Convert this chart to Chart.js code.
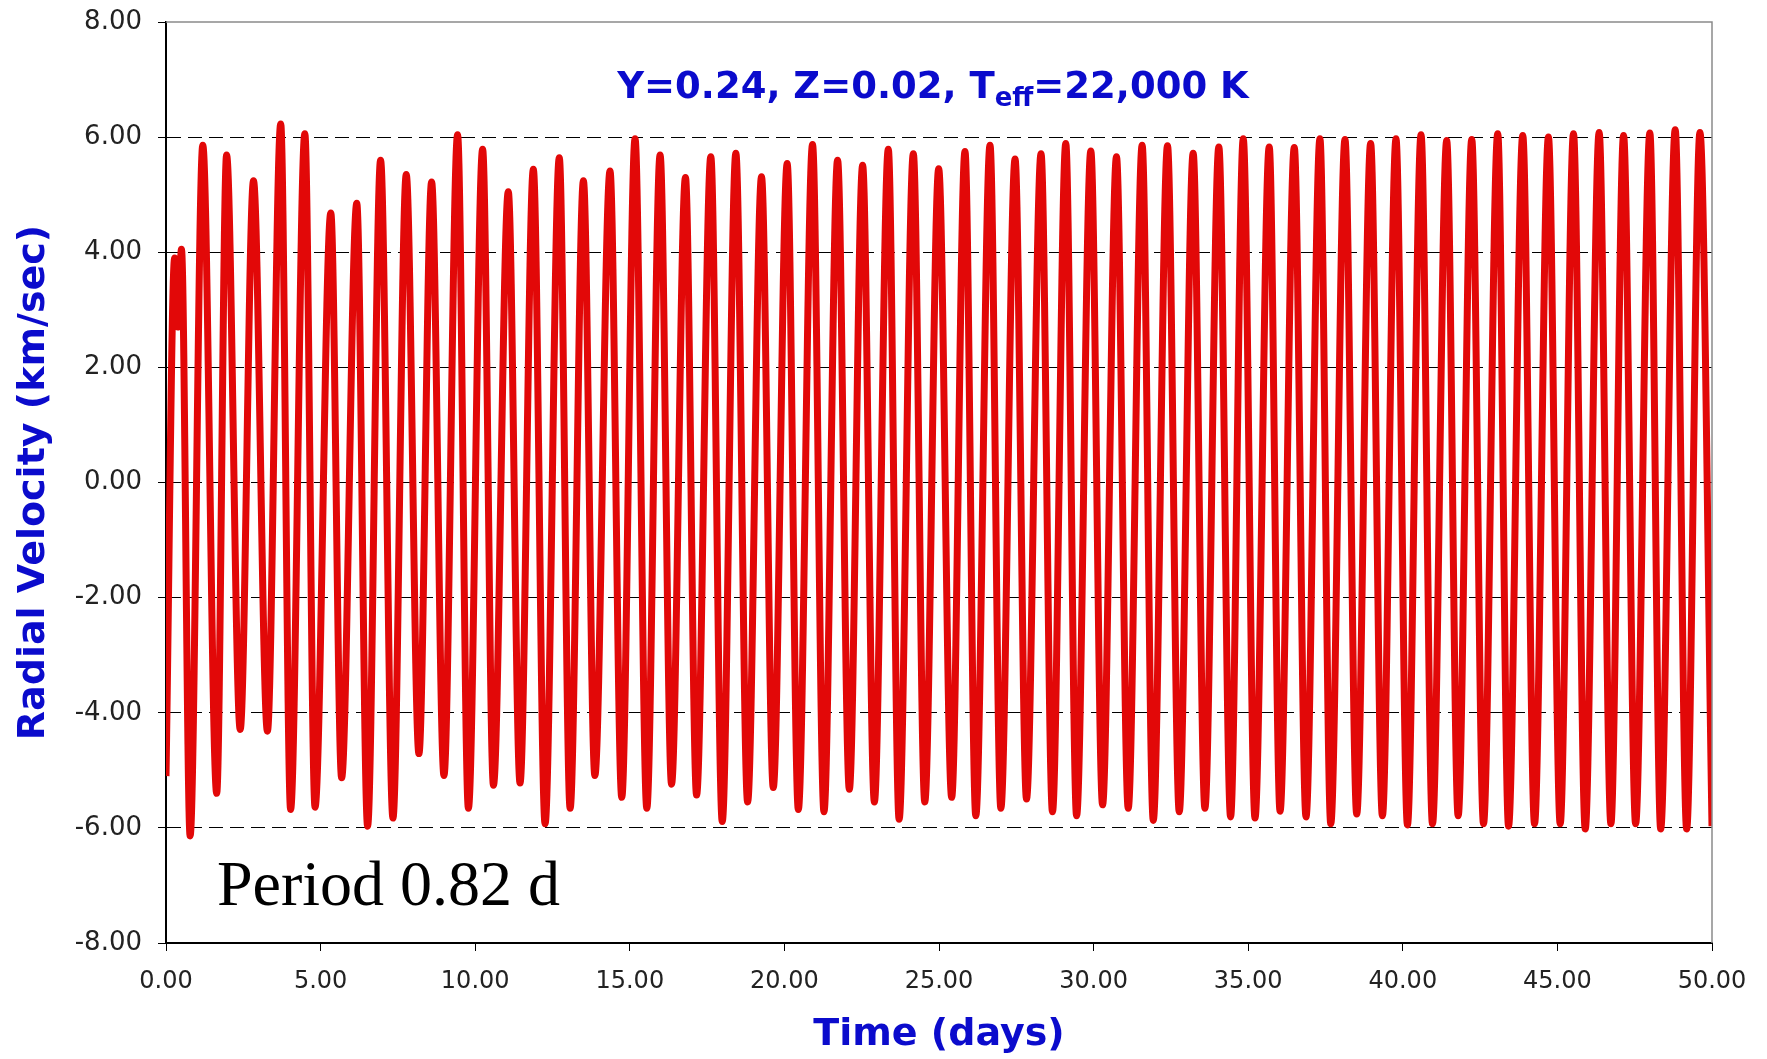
<!DOCTYPE html>
<html>
<head>
<meta charset="utf-8">
<title>Radial velocity</title>
<script src="https://cdn.jsdelivr.net/npm/chart.js@4.4.1/dist/chart.umd.min.js"></script>
<style>
  html, body { margin: 0; padding: 0; background: #fff; }
  #wrap { width: 1767px; height: 1059px; }
</style>
</head>
<body>
<div id="wrap"><canvas id="rv"></canvas></div>
<script>
// first cycle, it starts with a double top
const startDays = [0.00, 0.28, 0.38, 0.50];
const startVel = [-5.10, 3.90, 2.70, 4.05];

// maxima of every cycle (days, km/sec)
const peakDays = [1.19, 1.96, 2.83, 3.71, 4.49, 5.33, 6.17, 6.94, 7.77, 8.59,
  9.43, 10.24, 11.07, 11.88, 12.72, 13.50, 14.36, 15.17, 15.98, 16.80,
  17.62, 18.43, 19.26, 20.09, 20.91, 21.72, 22.53, 23.36, 24.17, 24.99,
  25.84, 26.65, 27.46, 28.30, 29.10, 29.91, 30.74, 31.57, 32.39, 33.22,
  34.05, 34.84, 35.68, 36.49, 37.32, 38.13, 38.96, 39.78, 40.59, 41.42,
  42.23, 43.07, 43.88, 44.71, 45.52, 46.35, 47.14, 47.99, 48.81, 49.61];
const peakVel = [5.86, 5.69, 5.24, 6.23, 6.06, 4.68, 4.85, 5.60, 5.35, 5.22,
  6.04, 5.79, 5.05, 5.44, 5.64, 5.24, 5.41, 5.97, 5.69, 5.30,
  5.66, 5.72, 5.31, 5.54, 5.87, 5.60, 5.51, 5.79, 5.71, 5.45,
  5.75, 5.86, 5.62, 5.71, 5.89, 5.76, 5.66, 5.86, 5.85, 5.72,
  5.83, 5.97, 5.83, 5.82, 5.97, 5.96, 5.89, 5.97, 6.04, 5.94,
  5.96, 6.06, 6.03, 6.00, 6.06, 6.08, 6.03, 6.07, 6.13, 6.08];

// minima of every cycle
const troughDays = [0.78, 1.64, 2.40, 3.28, 4.03, 4.82, 5.68, 6.52, 7.34, 8.18,
  8.99, 9.78, 10.59, 11.45, 12.26, 13.07, 13.87, 14.74, 15.55, 16.35,
  17.16, 17.99, 18.81, 19.64, 20.45, 21.28, 22.10, 22.91, 23.71, 24.54,
  25.41, 26.19, 27.00, 27.83, 28.67, 29.45, 30.29, 31.12, 31.93, 32.77,
  33.60, 34.43, 35.22, 36.03, 36.87, 37.67, 38.51, 39.34, 40.15, 40.96,
  41.79, 42.61, 43.42, 44.26, 45.09, 45.90, 46.73, 47.53, 48.34, 49.18, 50.00];
const troughVel = [-6.14, -5.40, -4.29, -4.32, -5.68, -5.64, -5.13, -5.97, -5.83, -4.71,
  -5.09, -5.66, -5.26, -5.22, -5.93, -5.66, -5.09, -5.47, -5.66, -5.24,
  -5.43, -5.89, -5.55, -5.30, -5.68, -5.72, -5.33, -5.55, -5.85, -5.55,
  -5.47, -5.79, -5.66, -5.50, -5.72, -5.79, -5.60, -5.66, -5.87, -5.72,
  -5.66, -5.81, -5.83, -5.71, -5.81, -5.93, -5.76, -5.79, -5.95, -5.93,
  -5.79, -5.93, -5.97, -5.93, -5.93, -6.02, -5.93, -5.93, -6.02, -6.02, -5.97];

const titleParts = ["Y=0.24, Z=0.02, T", "eff", "=22,000 K"];
const periodLabel = "Period 0.82 d";

// putting everything in time order
const points = [];
startDays.forEach((d, i) => points.push({ x: d, y: startVel[i] }));
peakDays.forEach((d, i) => points.push({ x: d, y: peakVel[i] }));
troughDays.forEach((d, i) => points.push({ x: d, y: troughVel[i] }));
points.sort((a, b) => a.x - b.x);

const blue = "#0b0bcc";

// frame, title and period note
const extras = {
  id: "extras",
  afterDraw(chart) {
    const ctx = chart.ctx;
    const a = chart.chartArea;
    ctx.save();
    ctx.strokeStyle = "#8a8a8a";
    ctx.lineWidth = 1.5;
    ctx.beginPath();
    ctx.moveTo(a.left, a.top);
    ctx.lineTo(a.right, a.top);
    ctx.lineTo(a.right, a.bottom);
    ctx.stroke();

    ctx.fillStyle = blue;
    ctx.textBaseline = "alphabetic";
    const big = 'bold 37px "DejaVu Sans"';
    const small = 'bold 26px "DejaVu Sans"';
    ctx.font = big;
    const w1 = ctx.measureText(titleParts[0]).width;
    const w3 = ctx.measureText(titleParts[2]).width;
    ctx.font = small;
    const w2 = ctx.measureText(titleParts[1]).width;
    let x = 933 - (w1 + w2 + w3) / 2;
    const base = 98;
    ctx.font = big;
    ctx.fillText(titleParts[0], x, base);
    x += w1;
    ctx.font = small;
    ctx.fillText(titleParts[1], x, base + 8);
    x += w2;
    ctx.font = big;
    ctx.fillText(titleParts[2], x, base);

    ctx.fillStyle = "#000";
    ctx.font = '64px "Liberation Serif"';
    ctx.fillText(periodLabel, 217, 905);
    ctx.restore();
  }
};

new Chart(document.getElementById("rv"), {
  type: "line",
  data: {
    datasets: [{
      data: points,
      borderColor: "#e20808",
      borderWidth: 7,
      pointRadius: 0,
      fill: false,
      cubicInterpolationMode: "monotone"
    }]
  },
  options: {
    responsive: true,
    maintainAspectRatio: false,
    animation: false,
    layout: { padding: { left: 0, right: 55, top: 22, bottom: 0 } },
    plugins: { legend: { display: false }, tooltip: { enabled: false } },
    scales: {
      x: {
        type: "linear",
        min: 0,
        max: 50,
        afterFit(scale) { scale.height = 116; },
        ticks: {
          stepSize: 5,
          color: "#222",
          font: { family: "DejaVu Sans", size: 24 },
          padding: 16,
          maxRotation: 0,
          callback: v => v.toFixed(2)
        },
        grid: { drawOnChartArea: false, tickLength: 8, tickColor: "#000" },
        border: { color: "#000", width: 2 },
        title: {
          display: true,
          text: "Time (days)",
          color: blue,
          font: { family: "DejaVu Sans", size: 38, weight: "bold" },
          padding: { top: 0, bottom: 1 }
        }
      },
      y: {
        min: -8,
        max: 8,
        afterFit(scale) {
          scale.width = 166;
          scale.paddingTop = 0;
          scale.paddingBottom = 0;
        },
        ticks: {
          stepSize: 2,
          color: "#222",
          font: { family: "DejaVu Sans", size: 26 },
          padding: 16,
          callback: v => v.toFixed(2)
        },
        grid: {
          color: c => (c.tick && Math.abs(c.tick.value) === 8) ? "rgba(0,0,0,0)" : "#000",
          lineWidth: 1,
          tickLength: 8,
          tickColor: "#000"
        },
        border: { color: "#000", width: 2, dash: [14, 7] },
        title: {
          display: true,
          text: "Radial Velocity (km/sec)",
          color: blue,
          font: { family: "DejaVu Sans", size: 38, weight: "bold" },
          padding: { top: 11, bottom: 0 }
        }
      }
    }
  },
  plugins: [extras]
});
</script>
</body>
</html>
